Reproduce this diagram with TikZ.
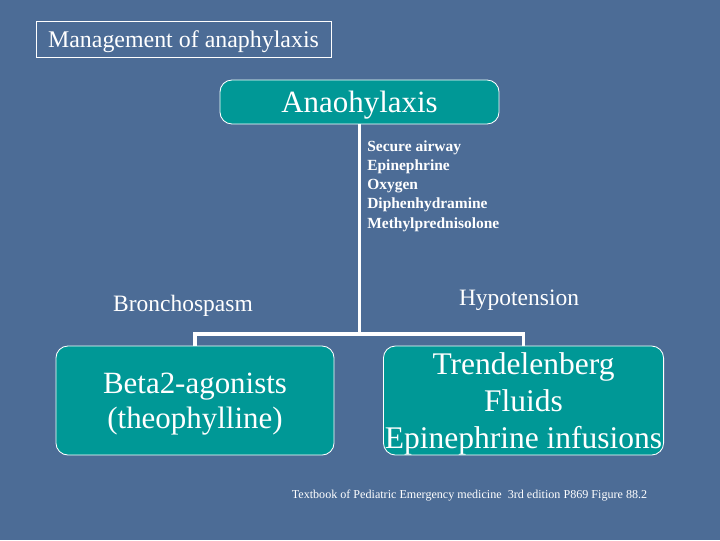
\documentclass[tikz,border=0pt]{standalone}
\usepackage{fontspec}
\setmainfont{Liberation Serif}
\usepackage{xcolor}
\usetikzlibrary{positioning}
\definecolor{slide}{RGB}{76,108,150}
\definecolor{tealbox}{RGB}{0,152,150}

\begin{document}
\begin{tikzpicture}[x=0.025cm,y=-0.025cm,
  every node/.style={text=white},
  tbox/.style={draw=white,line width=0.6pt,fill=tealbox,rounded corners=0.3cm,align=center,inner sep=1pt,text depth=0pt},
  link/.style={draw=white,line width=2.2pt}]
\fill[slide] (0,0) rectangle (720,540);
\useasboundingbox (0,0) rectangle (720,540);
\node[draw=white,line width=0.6pt,minimum width=7.375cm,minimum height=0.9cm,inner sep=0pt,text depth=0pt,font=\fontsize{17}{20}\selectfont] (title) at (183.5,39) {Management of anaphylaxis\hspace{5pt}};
\node[tbox,minimum width=6.975cm,minimum height=1.1cm,font=\fontsize{22}{24}\selectfont] (ana) at (359.5,102) {Anaohylaxis};
\node[tbox,minimum width=6.95cm,minimum height=2.725cm,font=\fontsize{22}{25}\selectfont] (beta) at (195,400.5) {Beta2-agonists\\(theophylline)};
\node[tbox,minimum width=6.975cm,minimum height=2.725cm,font=\fontsize{22.4}{26.4}\selectfont] (trend) at (523.5,400.5) {Trendelenberg\\Fluids\\Epinephrine infusions};
\node[anchor=north west,align=left,inner sep=0pt,font=\bfseries\fontsize{11}{13.6}\selectfont] (meds) at (367,140.5) {Secure airway\\Epinephrine\\Oxygen\\Diphenhydramine\\Methylprednisolone};
\node[font=\fontsize{16.7}{20}\selectfont] (bron) at (183,306) {Bronchospasm};
\node[font=\fontsize{16.7}{20}\selectfont] (hypo) at (519,300) {Hypotension};
\node[font=\fontsize{8.6}{10}\selectfont] (src) at (469.5,496) {Textbook of Pediatric Emergency medicine\ \ 3rd edition P869 Figure 88.2};
\coordinate (fork) at (359.5,334);
\draw[link] (ana.south) -- (fork);
\draw[link] (beta.north) |- (fork) -| (trend.north);
\end{tikzpicture}
\end{document}
